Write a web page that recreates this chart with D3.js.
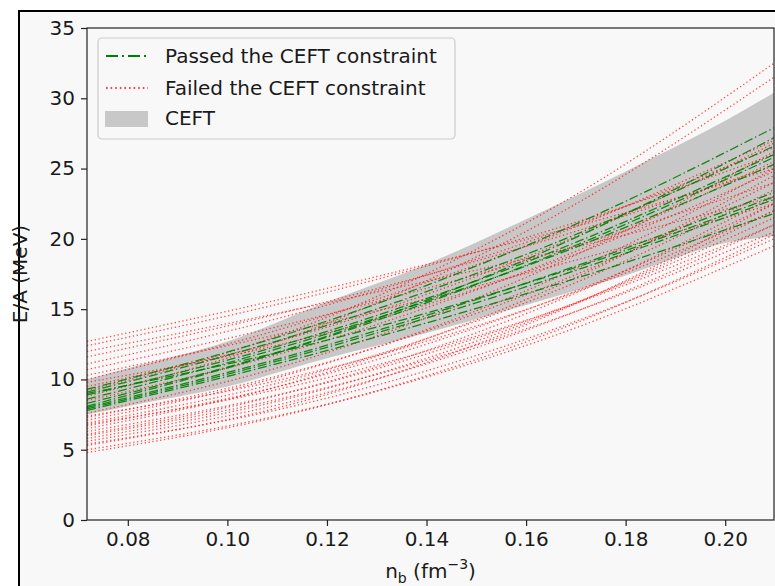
<!DOCTYPE html>
<html>
<head>
<meta charset="utf-8">
<script src="https://cdn.jsdelivr.net/npm/d3@7"></script>
<style>
  html, body { margin: 0; padding: 0; background: #ffffff; }
  svg { display: block; }
  text { font-family: "DejaVu Sans", sans-serif; fill: #1a1a1a; }
</style>
</head>
<body>
<svg id="chart" width="775" height="586"></svg>
<script>
// ---- data ----
const nbGrid = [0.0718, 0.1063, 0.1408, 0.1753, 0.2098];

const passedLines = [
  [9.3, 12.60, 16.80, 21.90, 27.9],
  [9.1, 12.35, 16.35, 21.10, 26.6],
  [8.9, 11.98, 15.85, 20.53, 26.0],
  [8.6, 11.80, 15.65, 20.15, 25.3],
  [8.3, 11.53, 15.75, 20.98, 27.2],
  [8.0, 11.08, 14.65, 18.73, 23.3],
  [7.9, 10.95, 14.45, 18.40, 22.8],
  [7.8, 10.78, 14.10, 17.78, 21.8],
  [9.0, 11.60, 14.80, 18.60, 23.0],
  [8.1, 11.48, 15.55, 20.33, 25.8]
];

const failedLines = [
  [12.7, 15.35, 18.25, 21.40, 25.0],
  [12.4, 15.03, 18.15, 21.78, 26.0],
  [12.0, 14.43, 17.05, 19.88, 23.0],
  [11.6, 14.33, 17.50, 21.13, 25.2],
  [11.1, 13.98, 17.50, 21.68, 26.5],
  [10.7, 13.43, 16.55, 20.08, 24.0],
  [10.3, 12.90, 15.80, 19.00, 22.5],
  [10.0, 13.13, 17.00, 21.63, 27.0],
  [9.5, 12.33, 16.15, 20.98, 26.8],
  [9.2, 12.63, 17.65, 24.28, 32.5],
  [8.8, 12.23, 17.15, 23.58, 31.5],
  [8.5, 11.40, 15.20, 19.90, 25.5],
  [9.8, 12.13, 15.40, 19.63, 24.8],
  [7.6, 10.45, 14.50, 19.75, 26.2],
  [7.3, 9.90, 13.55, 18.25, 24.0],
  [7.1, 9.78, 13.65, 18.73, 25.0],
  [6.9, 9.40, 13.00, 17.70, 23.5],
  [6.7, 9.15, 12.60, 17.05, 22.5],
  [6.5, 9.13, 13.00, 18.13, 24.5],
  [6.3, 8.60, 11.90, 16.20, 21.5],
  [6.1, 8.53, 12.15, 16.98, 23.0],
  [6.0, 8.28, 11.45, 15.53, 20.5],
  [5.8, 8.13, 11.60, 16.23, 22.0],
  [5.6, 7.88, 11.20, 15.58, 21.0],
  [5.4, 7.55, 10.70, 14.85, 20.0],
  [5.3, 7.65, 11.30, 16.25, 22.5],
  [5.0, 7.13, 10.25, 14.38, 19.5],
  [4.8, 7.03, 10.35, 14.78, 20.3],
  [6.8, 9.00, 12.10, 16.10, 21.0],
  [7.4, 9.63, 12.80, 16.93, 22.0]
];

const bandX     = [0.0718, 0.08, 0.10, 0.12, 0.14, 0.16, 0.18, 0.20, 0.2098];
const bandLower = [7.5, 8.1, 9.5, 11.5, 13.3, 15.3, 17.4, 19.7, 20.2];
const bandUpper = [10.0, 10.8, 12.7, 15.5, 18.2, 21.4, 24.8, 28.4, 30.4];

const xTicks = [0.08, 0.10, 0.12, 0.14, 0.16, 0.18, 0.20];
const yTicks = [0, 5, 10, 15, 20, 25, 30, 35];

const legendLabels = ["Passed the CEFT constraint", "Failed the CEFT constraint", "CEFT"];

// ---- layout ----
const svg = d3.select("#chart");
const L = 87, R = 774, T = 28, B = 520;

// figure background with black frame (cropped at right/bottom)
svg.append("rect").attr("x", 19).attr("y", 11).attr("width", 775).attr("height", 590)
  .attr("fill", "#f8f8f8").attr("stroke", "#000").attr("stroke-width", 2);

const x = d3.scaleLinear().domain([0.0718, 0.2098]).range([L, R]);
const y = d3.scaleLinear().domain([0, 35]).range([B, T]);

svg.append("defs").append("clipPath").attr("id", "clip")
  .append("rect").attr("x", L).attr("y", T).attr("width", R - L).attr("height", B - T);

const plot = svg.append("g").attr("clip-path", "url(#clip)");

// CEFT band
const bandData = bandX.map((v, i) => ({x: v, lo: bandLower[i], hi: bandUpper[i]}));
plot.append("path")
  .datum(bandData)
  .attr("fill", "#c8c8c8")
  .attr("d", d3.area().x(d => x(d.x)).y0(d => y(d.lo)).y1(d => y(d.hi)).curve(d3.curveMonotoneX));

const line = d3.line().x((d, i) => x(nbGrid[i])).y(d => y(d)).curve(d3.curveNatural);

// failed lines (red dotted)
plot.selectAll(".failed").data(failedLines).enter().append("path")
  .attr("class", "failed")
  .attr("fill", "none")
  .attr("stroke", "#ff0000")
  .attr("stroke-opacity", 0.7)
  .attr("stroke-width", 1.3)
  .attr("stroke-dasharray", "1.3,2.6")
  .attr("d", line);

// passed lines (green dash-dot)
plot.selectAll(".passed").data(passedLines).enter().append("path")
  .attr("class", "passed")
  .attr("fill", "none")
  .attr("stroke", "#008000")
  .attr("stroke-opacity", 0.9)
  .attr("stroke-width", 1.3)
  .attr("stroke-dasharray", "9,2.8,1.4,2.8")
  .attr("d", line);

// axes
const xAxis = d3.axisBottom(x).tickValues(xTicks).tickFormat(d3.format(".2f")).tickSizeOuter(0).tickSize(6).tickPadding(6);
const yAxis = d3.axisLeft(y).tickValues(yTicks).tickFormat(d3.format("d")).tickSizeOuter(0).tickSize(6).tickPadding(6);

const gx = svg.append("g").attr("transform", `translate(0,${B})`).call(xAxis);
const gy = svg.append("g").attr("transform", `translate(${L},0)`).call(yAxis);
[gx, gy].forEach(g => {
  g.select(".domain").remove();
  g.selectAll(".tick line").attr("stroke", "#222").attr("stroke-width", 1.2);
  g.selectAll(".tick text").attr("font-size", 20).attr("font-family", "DejaVu Sans").attr("fill", "#1a1a1a");
});

// spines
svg.append("rect").attr("x", L).attr("y", T).attr("width", R - L).attr("height", B - T)
  .attr("fill", "none").attr("stroke", "#222").attr("stroke-width", 1.2);

// axis labels
svg.append("text").attr("transform", `translate(27,${(T + B) / 2}) rotate(-90)`)
  .attr("text-anchor", "middle").attr("font-size", 20).text("E/A (MeV)");

const xl = svg.append("text").attr("x", (L + R) / 2).attr("y", 578)
  .attr("text-anchor", "middle").attr("font-size", 20);
xl.append("tspan").text("n");
xl.append("tspan").attr("font-size", 14).attr("dy", 5).text("b");
xl.append("tspan").attr("dy", -5).text(" (fm");
xl.append("tspan").attr("font-size", 14).attr("dy", -9).text("\u22123");
xl.append("tspan").attr("dy", 9).text(")");

// legend
const lg = svg.append("g");
lg.append("rect").attr("x", 98).attr("y", 38).attr("width", 357).attr("height", 101)
  .attr("rx", 4).attr("fill", "#f8f8f8").attr("fill-opacity", 0.8)
  .attr("stroke", "#cccccc").attr("stroke-width", 1.2);
lg.append("line").attr("x1", 106).attr("x2", 148).attr("y1", 56).attr("y2", 56)
  .attr("stroke", "#008000").attr("stroke-width", 1.8).attr("stroke-dasharray", "12,4,2,4");
lg.append("line").attr("x1", 106).attr("x2", 148).attr("y1", 88).attr("y2", 88)
  .attr("stroke", "#ff0000").attr("stroke-width", 1.6).attr("stroke-dasharray", "1.6,3");
lg.append("rect").attr("x", 105).attr("y", 111).attr("width", 43).attr("height", 16)
  .attr("fill", "#c8c8c8");
const legY = [63, 95, 125];
legendLabels.forEach((t, i) => {
  lg.append("text").attr("x", 165).attr("y", legY[i]).attr("font-size", 20).text(t);
});
</script>
</body>
</html>
